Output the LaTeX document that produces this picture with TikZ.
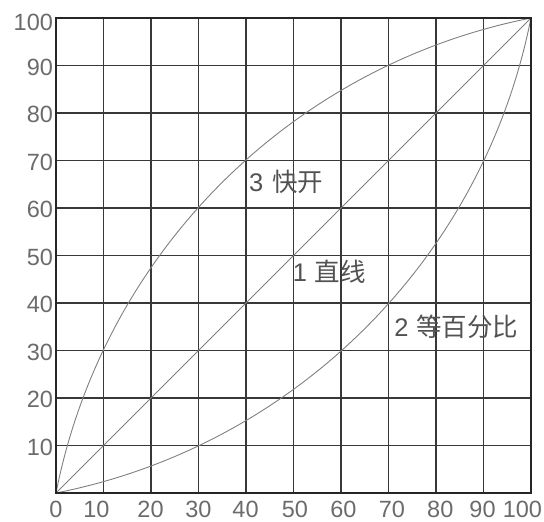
\documentclass[tikz,border=0pt]{standalone}
\usepackage{fontspec}
\setmainfont{Liberation Sans}
\newfontfamily\cjk{Noto Sans CJK SC}
\begin{document}
\begin{tikzpicture}[x=4.75pt,y=4.75pt,
  gridline/.style={draw=black!78, line width=1.1pt},
  frameline/.style={draw=black!85, line width=2.6pt, line join=miter},
  curveline/.style={draw=black!50, line width=0.9pt},
  ticklbl/.style={text=black!58, font=\fontsize{23.5}{24}\selectfont, inner sep=0pt},
  curvelbl/.style={text=black!68, font=\fontsize{25.5}{26}\selectfont, inner sep=0pt, anchor=base west}]
\useasboundingbox (-56pt,-29pt) rectangle (488pt,493pt);
% grid
\foreach \i in {10,20,...,90} {
  \draw[gridline] (\i,0) -- (\i,100);
  \draw[gridline] (0,\i) -- (100,\i);
}
% curves
\coordinate (O) at (0,0);
\coordinate (T) at (100,100);
\draw[curveline] (O) -- (T);
% 2: equal percentage (circular arc, centre (-24.6,124.6), r = 127)
\draw[curveline] (O) arc[start angle=-78.83, end angle=-11.17, radius=603.25pt];
% 3: quick opening (mirror image, centre (124.6,-24.6))
\draw[curveline] (O) arc[start angle=168.83, end angle=101.17, radius=603.25pt];
% frame
\draw[frameline] (0,0) rectangle (100,100);
% y tick labels
\foreach \i in {10,20,...,90} {
  \node[ticklbl, anchor=east] (y\i) at (-0.6,\i-0.3) {\i};
}
\node[ticklbl, anchor=east] (y100) at (-0.6,99.05) {100};
% x tick labels
\node[ticklbl, anchor=north] (x0) at (0,-1.7) {0};
\node[ticklbl, anchor=north] (x10) at (8.5,-1.7) {10};
\node[ticklbl, anchor=north] (x20) at (19.9,-1.7) {20};
\node[ticklbl, anchor=north] (x30) at (30,-1.7) {30};
\node[ticklbl, anchor=north] (x40) at (39.9,-1.7) {40};
\node[ticklbl, anchor=north] (x50) at (50.3,-1.7) {50};
\node[ticklbl, anchor=north] (x60) at (60.5,-1.7) {60};
\node[ticklbl, anchor=north] (x70) at (70.7,-1.7) {70};
\node[ticklbl, anchor=north] (x80) at (80.9,-1.7) {80};
\node[ticklbl, anchor=north] (x90) at (89.8,-1.7) {90};
\node[ticklbl, anchor=north] (x100) at (98.2,-1.7) {100};
% curve labels
\node[curvelbl] (l3) at (40.6,63.4) {3\hspace{0.35em}{\cjk 快开}};
\node[curvelbl] (l1) at (49.8,44.6) {1\hspace{0.3em}{\cjk 直线}};
\node[curvelbl] (l2) at (71.2,32.9) {2\hspace{0.3em}{\cjk 等百分比}};
\end{tikzpicture}
\end{document}
